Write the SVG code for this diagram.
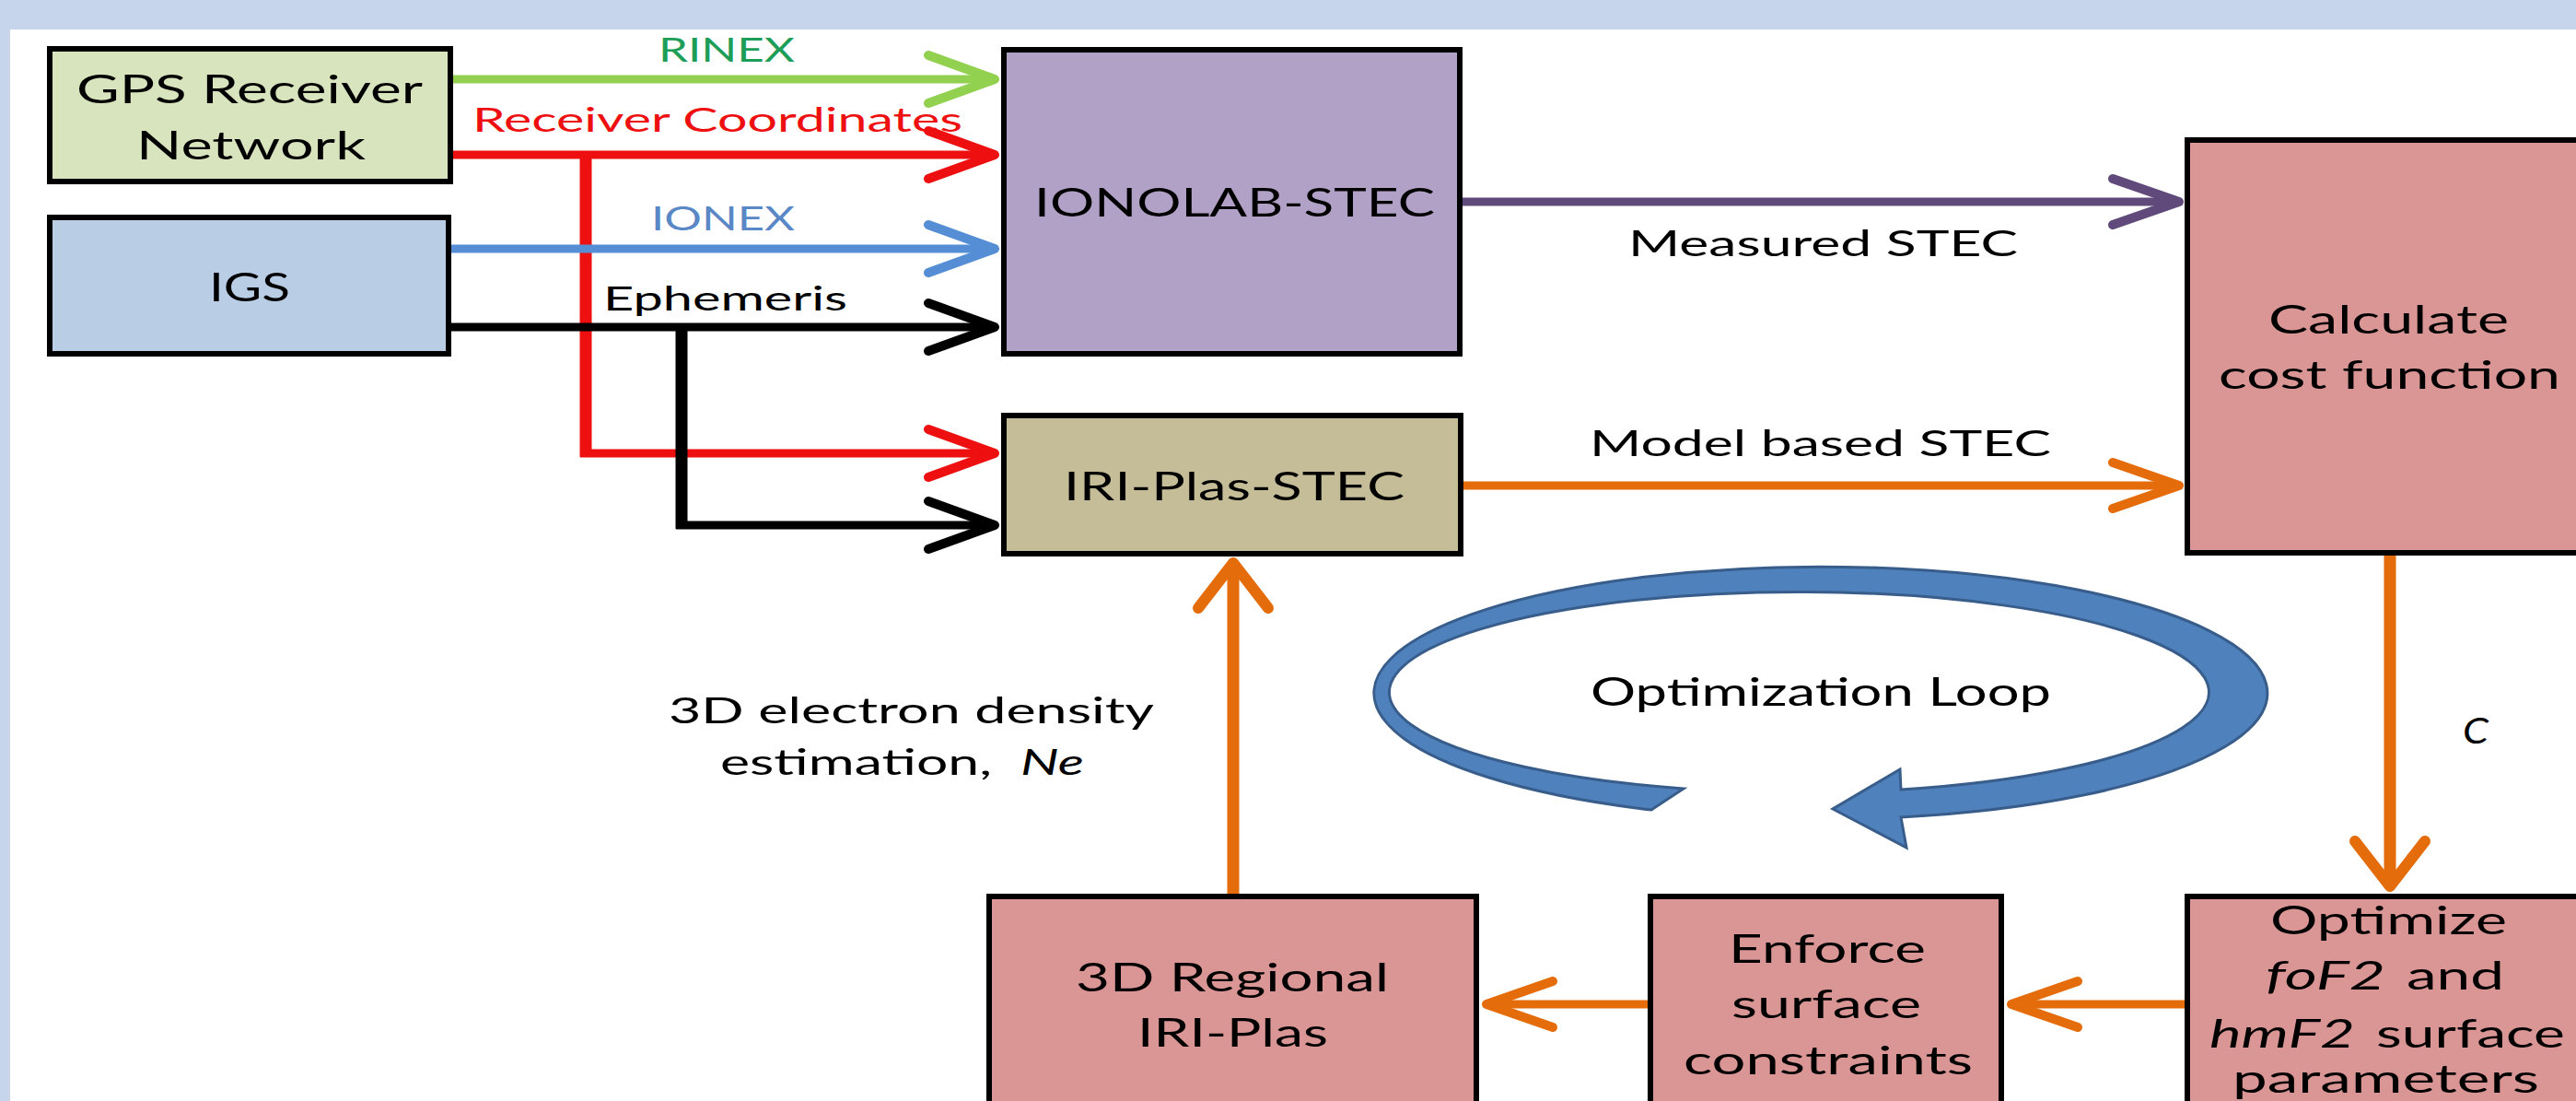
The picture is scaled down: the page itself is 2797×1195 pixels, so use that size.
<svg xmlns="http://www.w3.org/2000/svg" width="2797" height="1195" viewBox="0 0 2797 1195">
<style>
.box{stroke:#000;stroke-width:6}
.t{font-family:Lato,"Open Sans","Liberation Sans",sans-serif;fill:#000}
.bt{font-size:42px}
.lb{font-size:36px}
.ml{font-size:39px}
.it{font-style:italic}
.h{fill:none;stroke-width:9}
.v{fill:none;stroke-width:13}
.mk{fill:none;stroke-linecap:round;stroke-linejoin:round}
</style>
<defs>
<marker id="ah-green" markerUnits="userSpaceOnUse" orient="auto" overflow="visible" markerWidth="1" markerHeight="1" refX="0" refY="0"><path class="mk" d="M-72,-26 L0,0 L-72,26" stroke="#92d050" stroke-width="10"/></marker>
<marker id="ah-red" markerUnits="userSpaceOnUse" orient="auto" overflow="visible" markerWidth="1" markerHeight="1" refX="0" refY="0"><path class="mk" d="M-72,-26 L0,0 L-72,26" stroke="#ee1010" stroke-width="10"/></marker>
<marker id="ah-blue" markerUnits="userSpaceOnUse" orient="auto" overflow="visible" markerWidth="1" markerHeight="1" refX="0" refY="0"><path class="mk" d="M-72,-26 L0,0 L-72,26" stroke="#558ed5" stroke-width="10"/></marker>
<marker id="ah-black" markerUnits="userSpaceOnUse" orient="auto" overflow="visible" markerWidth="1" markerHeight="1" refX="0" refY="0"><path class="mk" d="M-72,-26 L0,0 L-72,26" stroke="#000" stroke-width="10"/></marker>
<marker id="ah-purple" markerUnits="userSpaceOnUse" orient="auto" overflow="visible" markerWidth="1" markerHeight="1" refX="0" refY="0"><path class="mk" d="M-72,-25 L0,0 L-72,25" stroke="#604a7b" stroke-width="10"/></marker>
<marker id="ah-orange" markerUnits="userSpaceOnUse" orient="auto" overflow="visible" markerWidth="1" markerHeight="1" refX="0" refY="0"><path class="mk" d="M-72,-25 L0,0 L-72,25" stroke="#e46c0a" stroke-width="10"/></marker>
<marker id="ah-orange-v" markerUnits="userSpaceOnUse" orient="auto" overflow="visible" markerWidth="1" markerHeight="1" refX="0" refY="0"><path class="mk" d="M-49,-38 L0,0 L-49,38" stroke="#e46c0a" stroke-width="12"/></marker>
</defs>

<rect x="0" y="0" width="2797" height="1195" fill="#fff"/>
<rect x="0" y="0" width="2797" height="32" fill="#c6d5ec"/>
<rect x="0" y="0" width="11" height="1195" fill="#c6d5ec"/>

<g id="connectors">
  <line class="h" x1="492" y1="86" x2="1080" y2="86" stroke="#92d050" marker-end="url(#ah-green)"/>
  <line class="h" x1="492" y1="168" x2="1080" y2="168" stroke="#ee1010" marker-end="url(#ah-red)"/>
  <line class="v" x1="636" y1="164" x2="636" y2="496" stroke="#ee1010"/>
  <line class="h" x1="630" y1="492" x2="1080" y2="492" stroke="#ee1010" marker-end="url(#ah-red)"/>
  <line class="h" x1="490" y1="270" x2="1080" y2="270" stroke="#558ed5" marker-end="url(#ah-blue)"/>
  <line class="h" x1="490" y1="355" x2="1080" y2="355" stroke="#000" marker-end="url(#ah-black)"/>
  <line class="v" x1="740" y1="351" x2="740" y2="574" stroke="#000"/>
  <line class="h" x1="734" y1="570" x2="1080" y2="570" stroke="#000" marker-end="url(#ah-black)"/>
  <line class="h" x1="1588" y1="219" x2="2366" y2="219" stroke="#604a7b" marker-end="url(#ah-purple)"/>
  <line class="h" x1="1588" y1="527" x2="2366" y2="527" stroke="#e46c0a" marker-end="url(#ah-orange)"/>
  <line class="v" x1="2595" y1="603" x2="2595" y2="962" stroke="#e46c0a" marker-end="url(#ah-orange-v)"/>
  <line class="h" x1="2372" y1="1090" x2="2184" y2="1090" stroke="#e46c0a" marker-end="url(#ah-orange)"/>
  <line class="h" x1="1789" y1="1090" x2="1614" y2="1090" stroke="#e46c0a" marker-end="url(#ah-orange)"/>
  <line class="v" x1="1339" y1="970" x2="1339" y2="611" stroke="#e46c0a" marker-end="url(#ah-orange-v)"/>
</g>

<g id="connector-labels">
  <text class="t lb" x="715" y="67" textLength="148" lengthAdjust="spacingAndGlyphs" style="fill:#1d9e58">RINEX</text>
  <text class="t lb" x="513" y="143" textLength="532" lengthAdjust="spacingAndGlyphs" style="fill:#ee1010">Receiver Coordinates</text>
  <text class="t lb" x="707" y="250" textLength="156" lengthAdjust="spacingAndGlyphs" style="fill:#5a87c5">IONEX</text>
  <text class="t lb" x="655" y="337" textLength="265" lengthAdjust="spacingAndGlyphs">Ephemeris</text>
  <text class="t ml" x="1768" y="278" textLength="423" lengthAdjust="spacingAndGlyphs">Measured STEC</text>
  <text class="t ml" x="1726" y="495" textLength="501" lengthAdjust="spacingAndGlyphs">Model based STEC</text>
  <text class="t ml" x="726" y="785" textLength="527" lengthAdjust="spacingAndGlyphs">3D electron density</text>
  <text class="t ml" x="782" y="841" textLength="295" lengthAdjust="spacingAndGlyphs">estimation,</text>
  <text class="t ml it" x="1108" y="841" textLength="69" lengthAdjust="spacingAndGlyphs">Ne</text>
  <text class="t ml it" x="2674" y="807" textLength="28" lengthAdjust="spacingAndGlyphs">C</text>
</g>

<g id="optimization-loop">
  <path d="M1793,879 A485,137 0 1 1 2064,887 L2070,920 L1990,878 L2063,835 L2064,857 A445,109 0 1 0 1828,856 Z" fill="#4f81bd" stroke="#385d8a" stroke-width="3" stroke-linejoin="miter"/>
  <text class="t bt" x="1727" y="766" textLength="500" lengthAdjust="spacingAndGlyphs">Optimization Loop</text>
</g>

<g id="gps">
  <rect class="box" x="54" y="53" width="435" height="144" fill="#d7e4bd"/>
  <text class="t bt" x="83" y="112" textLength="376" lengthAdjust="spacingAndGlyphs">GPS Receiver</text>
  <text class="t bt" x="148" y="173" textLength="249" lengthAdjust="spacingAndGlyphs">Network</text>
</g>
<g id="igs">
  <rect class="box" x="54" y="236" width="433" height="148" fill="#b9cde5"/>
  <text class="t bt" x="227" y="327" textLength="88" lengthAdjust="spacingAndGlyphs">IGS</text>
</g>
<g id="ionolab">
  <rect class="box" x="1090" y="54" width="495" height="330" fill="#b2a1c7"/>
  <text class="t bt" x="1123" y="235" textLength="435" lengthAdjust="spacingAndGlyphs">IONOLAB-STEC</text>
</g>
<g id="iri-plas-stec">
  <rect class="box" x="1090" y="451" width="496" height="150" fill="#c4bd97"/>
  <text class="t bt" x="1155" y="543" textLength="370" lengthAdjust="spacingAndGlyphs">IRI-Plas-STEC</text>
</g>
<g id="calculate">
  <rect class="box" x="2375" y="152" width="500" height="448" fill="#d99694"/>
  <text class="t bt" x="2463" y="362" textLength="261" lengthAdjust="spacingAndGlyphs">Calculate</text>
  <text class="t bt" x="2409" y="422" textLength="371" lengthAdjust="spacingAndGlyphs">cost function</text>
</g>
<g id="regional">
  <rect class="box" x="1074" y="973" width="529" height="300" fill="#d99694"/>
  <text class="t bt" x="1168" y="1076" textLength="340" lengthAdjust="spacingAndGlyphs">3D Regional</text>
  <text class="t bt" x="1235" y="1136" textLength="207" lengthAdjust="spacingAndGlyphs">IRI-Plas</text>
</g>
<g id="enforce">
  <rect class="box" x="1792" y="973" width="381" height="300" fill="#d99694"/>
  <text class="t bt" x="1877" y="1045" textLength="214" lengthAdjust="spacingAndGlyphs">Enforce</text>
  <text class="t bt" x="1880" y="1105" textLength="206" lengthAdjust="spacingAndGlyphs">surface</text>
  <text class="t bt" x="1828" y="1166" textLength="314" lengthAdjust="spacingAndGlyphs">constraints</text>
</g>
<g id="optimize">
  <rect class="box" x="2375" y="973" width="500" height="300" fill="#d99694"/>
  <text class="t bt" x="2465" y="1014" textLength="257" lengthAdjust="spacingAndGlyphs">Optimize</text>
  <text class="t bt it" x="2460" y="1074" textLength="130" lengthAdjust="spacingAndGlyphs">foF2</text>
  <text class="t bt" x="2613" y="1074" textLength="106" lengthAdjust="spacingAndGlyphs">and</text>
  <text class="t bt it" x="2399" y="1137" textLength="158" lengthAdjust="spacingAndGlyphs">hmF2</text>
  <text class="t bt" x="2580" y="1137" textLength="205" lengthAdjust="spacingAndGlyphs">surface</text>
  <text class="t bt" x="2424" y="1186" textLength="333" lengthAdjust="spacingAndGlyphs">parameters</text>
</g>
</svg>
